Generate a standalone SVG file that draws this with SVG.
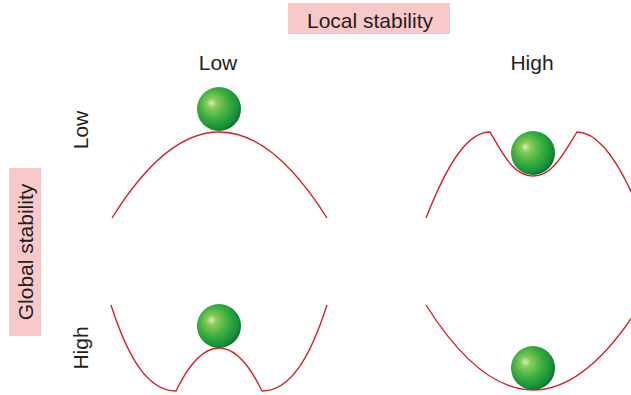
<svg xmlns="http://www.w3.org/2000/svg" width="631" height="395" viewBox="0 0 631 395">
  <style>
    .lbl { font-family: "Liberation Sans", Arial, sans-serif; font-size: 21px; fill: #231f20; text-anchor: middle; }
    .tag { fill: #f9c9c9; }
    .curve { fill: none; stroke: #d2232a; stroke-width: 1.4; stroke-linejoin: miter; }
  </style>
  <defs>
    <radialGradient id="ballShade" cx="0.42" cy="0.42" r="0.62" fx="0.32" fy="0.36">
      <stop offset="0" stop-color="#d6ecc4"/>
      <stop offset="0.18" stop-color="#8acb5a"/>
      <stop offset="0.55" stop-color="#3aae3f"/>
      <stop offset="0.85" stop-color="#16913a"/>
      <stop offset="1" stop-color="#0b6a2a"/>
    </radialGradient>
  </defs>

  <!-- axis headings -->
  <g id="local-stability">
    <rect class="tag" x="288" y="3" width="162" height="31"/>
    <text class="lbl" x="370" y="28">Local stability</text>
  </g>
  <g id="global-stability">
    <rect class="tag" x="9" y="168" width="32" height="168"/>
    <text class="lbl" transform="translate(33,252) rotate(-90)">Global stability</text>
  </g>
  <g id="col-low"><text class="lbl" x="218" y="70">Low</text></g>
  <g id="col-high"><text class="lbl" x="532" y="70">High</text></g>
  <g id="row-low"><text class="lbl" transform="translate(88,130) rotate(-90)">Low</text></g>
  <g id="row-high"><text class="lbl" transform="translate(88,348) rotate(-90)">High</text></g>

  <!-- energy landscapes -->
  <g id="landscapes">
    <path class="curve" d="M112,218 Q219,46 327,218"/>
    <path class="curve" d="M426,218 C448,162 468,132 490,132 C504,156 514,176 533,176 C552,176 562,156 577,132 C599,132 618,162 634,198"/>
    <path class="curve" d="M111,305 C128,358 148,391 176,391 C190,362 204,348 219,348 C234,348 248,362 262,391 C290,391 310,358 327,305"/>
    <path class="curve" d="M426,305 Q533,475 640,305"/>
  </g>

  <!-- balls -->
  <g id="ball-low-low"><circle cx="219" cy="109" r="22" fill="url(#ballShade)"/></g>
  <g id="ball-low-high"><circle cx="533" cy="153" r="22" fill="url(#ballShade)"/></g>
  <g id="ball-high-low"><circle cx="219" cy="326" r="22" fill="url(#ballShade)"/></g>
  <g id="ball-high-high"><circle cx="533" cy="368" r="22" fill="url(#ballShade)"/></g>
</svg>
